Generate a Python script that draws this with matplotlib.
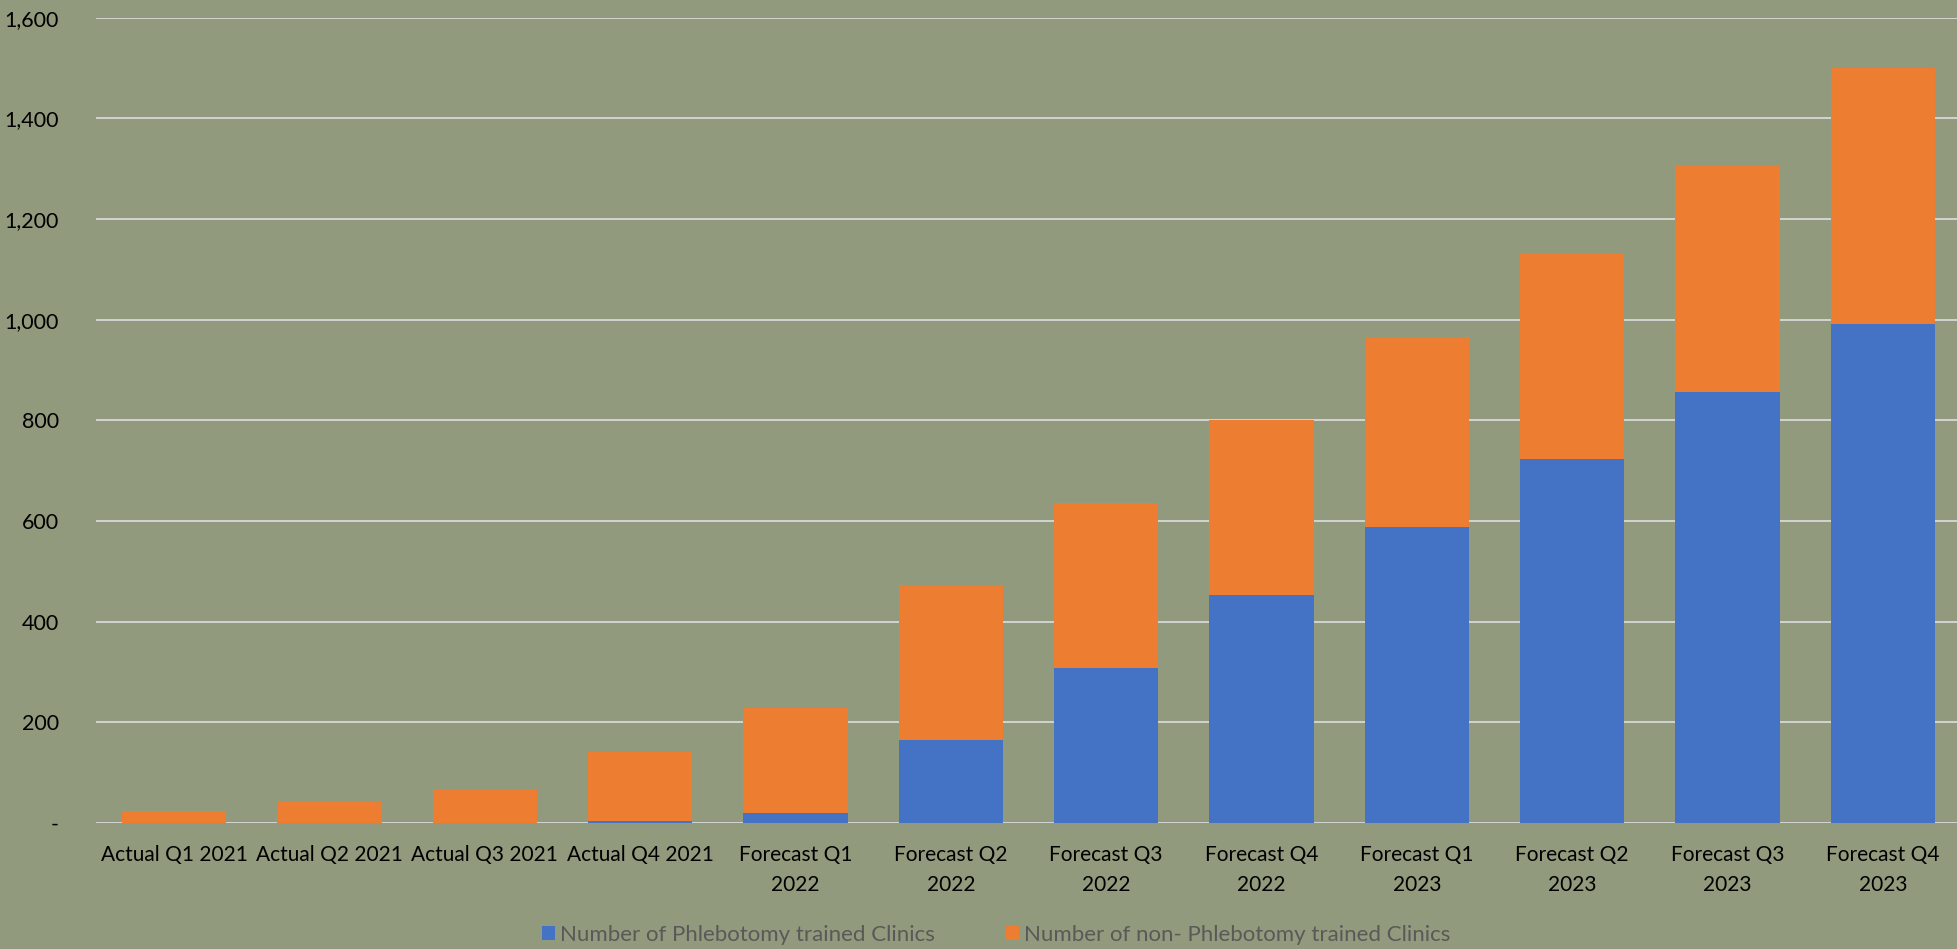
import numpy as np
import matplotlib.pyplot as plt
from matplotlib.ticker import FuncFormatter

quarters = ['Actual Q1 2021', 'Actual Q2 2021', 'Actual Q3 2021', 'Actual Q4 2021',
            'Forecast Q1\n2022', 'Forecast Q2\n2022', 'Forecast Q3\n2022', 'Forecast Q4\n2022',
            'Forecast Q1\n2023', 'Forecast Q2\n2023', 'Forecast Q3\n2023', 'Forecast Q4\n2023']
trained = [0, 0, 0, 3, 20, 165, 308, 453, 588, 723, 857, 991]
non_trained = [24, 44, 66, 139, 209, 308, 328, 347, 377, 408, 448, 509]

bg = '#919a7c'
plt.rcParams['font.family'] = ['Lato', 'DejaVu Sans']

fig = plt.figure(figsize=(19.57, 9.49), dpi=100, facecolor=bg)
ax = fig.add_axes([0.0493, 0.1328, 0.9525, 0.8485])
ax.set_facecolor(bg)

x = np.arange(len(quarters))
ax.bar(x, trained, width=0.67, color='#4472C4', label='Number of Phlebotomy trained Clinics', zorder=3)
ax.bar(x, non_trained, width=0.67, bottom=trained, color='#ED7D31',
       label='Number of non- Phlebotomy trained Clinics', zorder=3)

ax.set_xlim(-0.5, len(quarters) - 0.5)
ax.set_ylim(0, 1600)
ax.set_yticks(np.arange(0, 1601, 200))
ax.yaxis.set_major_formatter(FuncFormatter(lambda v, p: '-' if v == 0 else f'{int(v):,}'))
ax.set_xticks(x)
ax.set_xticklabels(quarters, fontsize=15, linespacing=1.6)

ax.grid(axis='y', color='#d9d9d9', linewidth=1.3, zorder=0)
ax.tick_params(axis='both', length=0, colors='black')
ax.tick_params(axis='y', labelsize=15.5, pad=27)
ax.tick_params(axis='x', pad=16)
for s in ax.spines.values():
    s.set_visible(False)

leg = fig.legend(loc='center', bbox_to_anchor=(0.509, 0.015), ncol=2, frameon=False,
                 fontsize=16, handlelength=0.6, handleheight=0.6, handletextpad=0.2,
                 columnspacing=3.2)
for t in leg.get_texts():
    t.set_color('#595959')

plt.savefig('out.png', dpi=100, facecolor=bg)
plt.close()
